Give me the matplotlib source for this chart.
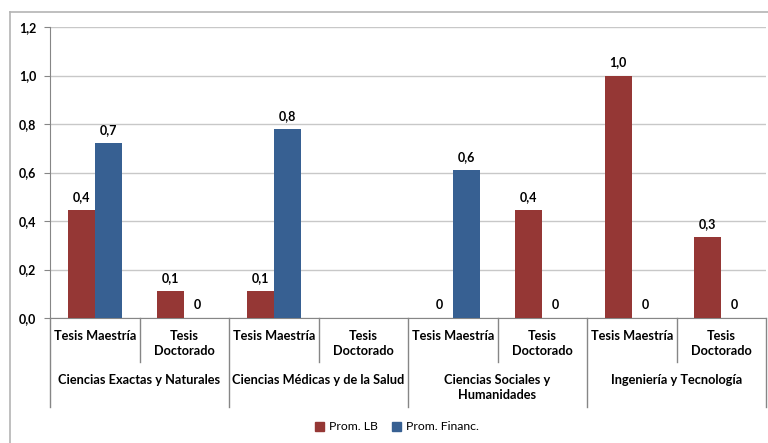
import matplotlib
matplotlib.use("Agg")
import matplotlib.pyplot as plt
import matplotlib.patches as patches
from matplotlib.lines import Line2D
import matplotlib.transforms as mtrans

plt.rcParams["font.family"] = ["Lato", "DejaVu Sans"]

# datos
grupos = ["Ciencias Exactas y Naturales", "Ciencias Médicas y de la Salud",
          "Ciencias Sociales y\nHumanidades", "Ingeniería y Tecnología"]
tipos = ["Tesis Maestría", "Tesis\nDoctorado"]
prom_lb = [0.444, 0.111, 0.111, None, 0.0, 0.444, 1.0, 0.333]
prom_financ = [0.72, 0.0, 0.778, None, 0.611, 0.0, 0.0, 0.0]

rojo = "#953735"
azul = "#376092"
W, H = 768, 443

fig = plt.figure(figsize=(W / 100, H / 100), dpi=100)
ax = fig.add_axes([50 / W, 1 - 318 / H, 716 / W, 291 / H])

n = len(prom_lb)
xs = list(range(n))
ancho = 0.3


def etiqueta(v):
    if v == 0:
        return "0"
    return ("%.1f" % v).replace(".", ",")


for i in xs:
    for v, dx, col in ((prom_lb[i], -ancho / 2, rojo), (prom_financ[i], ancho / 2, azul)):
        if v is None:
            continue
        ax.bar(i + dx, v, width=ancho, color=col, edgecolor="none", zorder=3)
        ax.annotate(etiqueta(v), (i + dx, v), xytext=(0, 5), textcoords="offset points",
                    ha="center", va="bottom", fontsize=9, fontweight="bold")

ax.set_xlim(-0.5, n - 0.5)
ax.set_ylim(0, 1.2)
ax.set_yticks([0, 0.2, 0.4, 0.6, 0.8, 1.0, 1.2])
ax.set_yticklabels([("%.1f" % t).replace(".", ",") for t in ax.get_yticks()],
                   fontsize=9, fontweight="bold")
ax.tick_params(axis="y", length=4, color="#868686", pad=6)
ax.set_xticks([])
ax.yaxis.grid(True, color="#c8c8c8", lw=1)
ax.set_axisbelow(True)
for s in ("top", "right"):
    ax.spines[s].set_visible(False)
ax.spines["left"].set_color("#868686")
ax.spines["bottom"].set_color("#868686")

# etiquetas de categorías
tr = mtrans.blended_transform_factory(ax.transData, ax.transAxes)
ah = 291.0
for i in xs:
    ax.text(i, -12 / ah, tipos[i % 2], transform=tr, ha="center", va="top",
            fontsize=9.2, fontweight="bold", linespacing=1.3)
for g, nombre in enumerate(grupos):
    ax.text(2 * g + 0.5, -56 / ah, nombre, transform=tr, ha="center", va="top",
            fontsize=9.2, fontweight="bold", linespacing=1.3)

for k in range(n + 1):
    largo = 89 if k % 2 == 0 else 44
    ax.add_line(Line2D([k - 0.5, k - 0.5], [0, -largo / ah], transform=tr,
                       color="#868686", lw=1, clip_on=False))

# borde del gráfico
fig.add_artist(Line2D([10 / W, 10 / W], [0, 1 - 12 / H], color="#b4b4b4", lw=1.2))
fig.add_artist(Line2D([10 / W, 1], [1 - 12 / H, 1 - 12 / H], color="#b4b4b4", lw=1.2))

handles = [patches.Patch(color=rojo, label="Prom. LB"),
           patches.Patch(color=azul, label="Prom. Financ.")]
fig.legend(handles=handles, loc="center", bbox_to_anchor=(397 / W, 1 - 427 / H),
           ncol=2, frameon=False, fontsize=8.8, handlelength=0.7, handleheight=0.7,
           handletextpad=0.4, columnspacing=1.2)

fig.savefig("out.png", dpi=100)
